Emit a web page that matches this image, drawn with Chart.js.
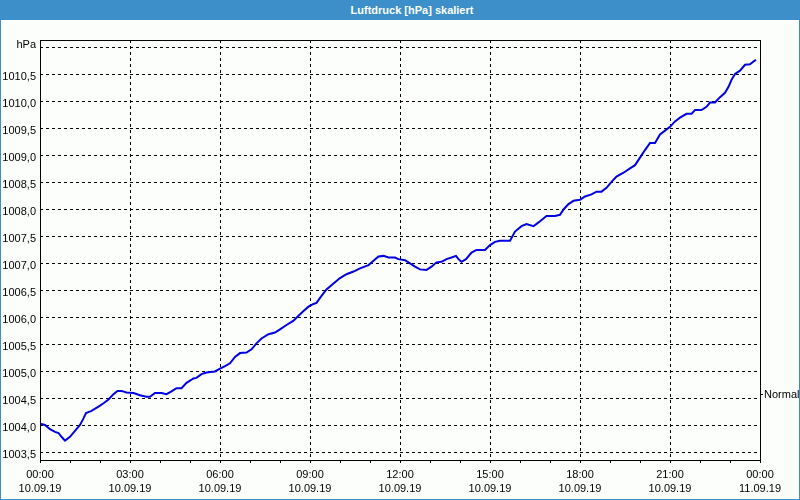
<!DOCTYPE html>
<html>
<head>
<meta charset="utf-8">
<script src="https://cdn.jsdelivr.net/npm/chart.js@4/dist/chart.umd.min.js"></script>
<style>
  html, body { margin: 0; padding: 0; background: #fcfefc; }
  #wrap { position: relative; width: 800px; height: 500px; background: #fcfefc; overflow: hidden; }
  #title { position: absolute; left: 0; top: 0; width: 800px; height: 20px; background: #3c8fc8;
           color: #fff; font: bold 11px "Liberation Sans", Arial, sans-serif; line-height: 21px;
           text-align: center; box-sizing: border-box; padding-left: 24px; }
  #c { position: absolute; left: 0; top: 20px; }
  .edge { position: absolute; background: #3c8fc8; }
</style>
</head>
<body>
<div id="wrap">
  <div id="title">Luftdruck [hPa] skaliert</div>
  <canvas id="c" width="800" height="480"></canvas>
  <div class="edge" style="left:0;top:20px;width:1px;height:480px"></div>
  <div class="edge" style="left:799px;top:20px;width:1px;height:480px"></div>
  <div class="edge" style="left:0;top:499px;width:800px;height:1px"></div>
</div>
<script>
// Minutes since 10.09.19 00:00
const minutes = [0,10,20,30,37,43,50,60,70,80,87,92,103,117,127,137,147,155,163,173,187,200,213,220,230,243,253,263,273,283,293,307,313,323,333,350,360,370,380,390,400,413,423,433,443,457,470,480,493,507,517,527,537,547,553,563,573,587,600,613,627,640,657,667,677,687,697,710,717,730,740,750,760,773,783,793,803,813,823,832,837,843,852,863,873,890,900,910,920,940,950,963,973,987,997,1013,1030,1040,1047,1057,1067,1080,1090,1103,1113,1123,1133,1143,1153,1167,1180,1190,1200,1210,1220,1230,1240,1250,1260,1270,1280,1293,1303,1310,1323,1333,1340,1350,1360,1370,1377,1383,1390,1400,1410,1420,1427,1432];
// Air pressure in hPa
const pressure = [1004.04,1004.02,1003.94,1003.89,1003.87,1003.80,1003.73,1003.80,1003.91,1004.02,1004.14,1004.24,1004.28,1004.36,1004.42,1004.49,1004.59,1004.65,1004.65,1004.62,1004.61,1004.57,1004.54,1004.54,1004.61,1004.61,1004.59,1004.64,1004.70,1004.70,1004.80,1004.88,1004.89,1004.96,1004.99,1005.01,1005.06,1005.11,1005.16,1005.28,1005.35,1005.36,1005.42,1005.53,1005.62,1005.70,1005.73,1005.79,1005.87,1005.95,1006.04,1006.13,1006.21,1006.26,1006.28,1006.41,1006.53,1006.64,1006.74,1006.81,1006.86,1006.92,1006.98,1007.06,1007.14,1007.15,1007.12,1007.12,1007.09,1007.07,1007.01,1006.95,1006.90,1006.89,1006.95,1007.03,1007.04,1007.09,1007.12,1007.15,1007.09,1007.04,1007.09,1007.21,1007.26,1007.26,1007.35,1007.41,1007.43,1007.43,1007.60,1007.70,1007.74,1007.70,1007.77,1007.89,1007.89,1007.91,1008.01,1008.11,1008.17,1008.19,1008.25,1008.29,1008.34,1008.34,1008.41,1008.52,1008.62,1008.69,1008.77,1008.83,1008.97,1009.11,1009.24,1009.24,1009.40,1009.47,1009.54,1009.64,1009.71,1009.78,1009.78,1009.85,1009.85,1009.91,1009.99,1009.99,1010.09,1010.17,1010.28,1010.41,1010.52,1010.58,1010.69,1010.70,1010.75,1010.78];

// Axis ticks
const xTickTimes = ['00:00','03:00','06:00','09:00','12:00','15:00','18:00','21:00','00:00'];
const xTickDates = ['10.09.19','10.09.19','10.09.19','10.09.19','10.09.19','10.09.19','10.09.19','10.09.19','11.09.19'];
const yTickValues = [1003.5,1004.0,1004.5,1005.0,1005.5,1006.0,1006.5,1007.0,1007.5,1008.0,1008.5,1009.0,1009.5,1010.0,1010.5,1011.0];
const yUnit = 'hPa';
const normalValue = 1004.59;
const normalLabel = 'Normal';

const X_MIN = 0, X_MAX = 1440, Y_MIN = 1003.37, Y_MAX = 1011.148;
const FONT = { family: '"Liberation Sans", Arial, sans-serif', size: 11 };

const framePlugin = {
  id: 'frame',
  afterDraw(chart) {
    const a = chart.chartArea, ctx = chart.ctx;
    ctx.save();
    ctx.strokeStyle = '#000';
    ctx.lineWidth = 1;
    ctx.setLineDash([]);
    const l = Math.round(a.left), t = Math.round(a.top), r = Math.round(a.right), b = Math.round(a.bottom);
    ctx.strokeRect(l + 0.5, t + 0.5, r - l, b - t);
    ctx.restore();
  }
};

new Chart(document.getElementById('c'), {
  type: 'line',
  data: {
    datasets: [{
      data: minutes.map((m, i) => ({ x: m, y: pressure[i] })),
      borderColor: '#0000e0',
      borderWidth: 2,
      pointRadius: 0,
      tension: 0,
      fill: false
    }]
  },
  options: {
    responsive: false,
    animation: false,
    devicePixelRatio: 1,
    layout: { padding: { top: 20, left: 0, right: 0, bottom: 0 } },
    plugins: { legend: { display: false }, title: { display: false }, tooltip: { enabled: false } },
    scales: {
      x: {
        type: 'linear',
        min: X_MIN, max: X_MAX,
        afterBuildTicks(scale) {
          const t = [];
          for (let m = X_MIN; m <= X_MAX; m += 60) t.push({ value: m });
          scale.ticks = t;
        },
        afterFit(scale) { scale.height = 40; },
        grid: {
          color: ctx => (ctx.tick && ctx.tick.value % 180 === 0 && ctx.tick.value !== X_MIN && ctx.tick.value !== X_MAX) ? '#000' : 'rgba(0,0,0,0)',
          lineWidth: 1,
          drawTicks: true,
          tickLength: 3,
          tickColor: '#000',
          tickWidth: 1
        },
        border: { display: false, dash: [3, 3] },
        ticks: {
          autoSkip: false,
          maxRotation: 0,
          minRotation: 0,
          padding: 5,
          color: '#000',
          font: { ...FONT, lineHeight: '14px' },
          callback(value) {
            if (value % 180 !== 0) return '';
            const i = value / 180;
            return [xTickTimes[i], xTickDates[i]];
          }
        }
      },
      y: {
        type: 'linear',
        position: 'left',
        min: Y_MIN, max: Y_MAX,
        afterBuildTicks(scale) { scale.ticks = yTickValues.map(v => ({ value: v })); },
        afterFit(scale) { scale.width = 40; },
        grid: { color: '#000', lineWidth: 1, drawTicks: false },
        border: { display: false, dash: [3, 3] },
        ticks: {
          padding: 4,
          labelOffset: 2,
          color: '#000',
          font: ctx => (ctx.tick && ctx.tick.value === yTickValues[yTickValues.length - 1])
            ? { ...FONT, lineHeight: '10px' } : { ...FONT, lineHeight: '13px' },
          callback(value) {
            if (value === yTickValues[yTickValues.length - 1]) return [yUnit, ''];
            return value.toFixed(1).replace('.', ',');
          }
        }
      },
      y2: {
        type: 'linear',
        position: 'right',
        min: Y_MIN, max: Y_MAX,
        afterBuildTicks(scale) { scale.ticks = [{ value: normalValue }]; },
        afterFit(scale) { scale.width = 40; },
        grid: { drawOnChartArea: false, drawTicks: true, tickLength: 3, tickColor: '#000', color: '#000' },
        border: { display: false },
        ticks: {
          padding: 1,
          labelOffset: 1,
          color: '#000',
          font: FONT,
          callback() { return normalLabel; }
        }
      }
    }
  },
  plugins: [framePlugin]
});
</script>
</body>
</html>
